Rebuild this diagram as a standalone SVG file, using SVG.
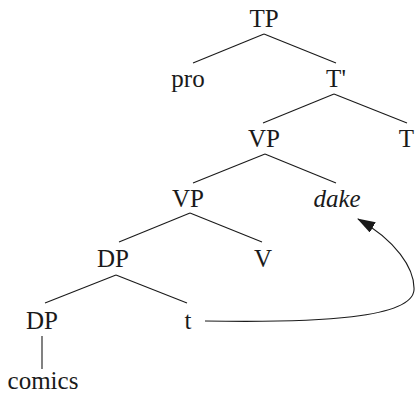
<svg xmlns="http://www.w3.org/2000/svg" width="415" height="393" viewBox="0 0 415 393">
<style>
text{font-family:"Liberation Serif","Times New Roman",serif;font-size:25px;fill:#1a1a1a;text-anchor:middle}
.it{font-style:italic}
.e{stroke:#1a1a1a;stroke-width:1.1;fill:none}
</style>
<defs>
<marker id="ah" viewBox="0 0 18 12" refX="17" refY="6" markerWidth="18" markerHeight="12" markerUnits="userSpaceOnUse" orient="auto">
<path d="M0,0 L18,6 L0,12 Z" fill="#1a1a1a"/>
</marker>
</defs>
<rect width="415" height="393" fill="#fff"/>
<g id="connectors">
<line class="e" x1="264" y1="34" x2="193" y2="63"/>
<line class="e" x1="264" y1="34" x2="336" y2="63"/>
<line class="e" x1="334" y1="94" x2="263" y2="123"/>
<line class="e" x1="334" y1="94" x2="407" y2="123"/>
<line class="e" x1="265" y1="154" x2="193" y2="183"/>
<line class="e" x1="265" y1="154" x2="336" y2="183"/>
<line class="e" x1="190" y1="213" x2="119" y2="242"/>
<line class="e" x1="190" y1="213" x2="262" y2="242"/>
<line class="e" x1="116" y1="275" x2="45" y2="303"/>
<line class="e" x1="116" y1="275" x2="187" y2="303"/>
<line class="e" x1="42" y1="336" x2="42" y2="369"/>
<path class="e" d="M205,321 C320,323 412,318 414,290 C415,268 395,240 358,219" marker-end="url(#ah)"/>
</g>
<g id="TP"><text x="264" y="27">TP</text></g>
<g id="pro"><text x="188" y="87">pro</text></g>
<g id="Tbar"><text x="336" y="87">T'</text></g>
<g id="VP1"><text x="264" y="147">VP</text></g>
<g id="T"><text x="406.5" y="147">T</text></g>
<g id="VP2"><text x="188" y="207">VP</text></g>
<g id="dake"><text class="it" x="337" y="207">dake</text></g>
<g id="DP1"><text x="113" y="267">DP</text></g>
<g id="V"><text x="263" y="267">V</text></g>
<g id="DP2"><text x="42" y="329">DP</text></g>
<g id="t"><text x="188" y="329">t</text></g>
<g id="comics"><text x="43" y="389">comics</text></g>
</svg>
